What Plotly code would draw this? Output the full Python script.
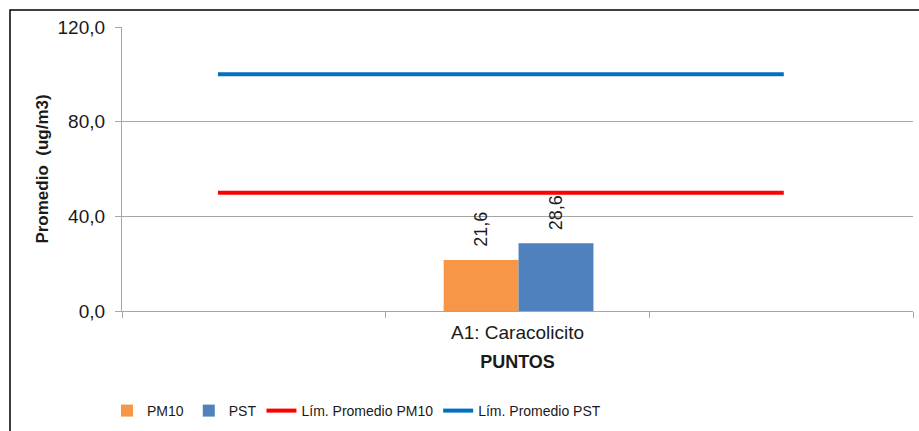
import plotly.graph_objects as go

# Sampling point and measured averages (ug/m3)
categories = ["A1: Caracolicito"]
pm10_values = [21.6]
pst_values = [28.6]

# Regulatory average limits (ug/m3) and the x-span they are drawn over
limit_pm10 = [50.0, 50.0]
limit_pst = [100.0, 100.0]
limit_span = [0.364, 2.51]

y_ticks = [0, 40, 80, 120]
slot_bounds = [0, 1, 2, 3]
cat_pos = [1.5]

FONT = "Liberation Sans, Arial, sans-serif"
TXT = "#1a1a1a"
BAR_W = 0.284
# value label, lifted a little off the bar top with non-breaking spaces
LABEL = "\u00a0\u00a0%{y:.1f}"

fig = go.Figure()

fig.add_trace(go.Bar(
    name="PM10", x=cat_pos, y=pm10_values, width=BAR_W, offset=-BAR_W + 0.004,
    marker=dict(color="#F79646", line=dict(width=0)),
    texttemplate=LABEL, textposition="outside", textangle=-90,
    textfont=dict(family=FONT, size=18, color=TXT), cliponaxis=False,
))
fig.add_trace(go.Bar(
    name="PST", x=cat_pos, y=pst_values, width=BAR_W, offset=0.004,
    marker=dict(color="#4F81BD", line=dict(width=0)),
    texttemplate=LABEL, textposition="outside", textangle=-90,
    textfont=dict(family=FONT, size=18, color=TXT), cliponaxis=False,
))
fig.add_trace(go.Scatter(
    name="Lím. Promedio PM10", x=limit_span, y=limit_pm10, mode="lines",
    line=dict(color="#FF0000", width=4),
))
fig.add_trace(go.Scatter(
    name="Lím. Promedio PST", x=limit_span, y=limit_pst, mode="lines",
    line=dict(color="#0070C0", width=4),
))

L, R, T, B = 122, 913, 27, 311
W, H = 919, 431
pw, ph = R - L, B - T

# outer chart frame
fig.add_shape(type="rect", xref="paper", yref="paper",
              x0=(10 - L) / pw, x1=(W + 20 - L) / pw,
              y0=-(H + 20 - B) / ph, y1=(B - 10) / ph,
              line=dict(color="black", width=1.5), fillcolor="rgba(0,0,0,0)",
              layer="below")

fig.update_layout(
    width=W, height=H,
    margin=dict(l=L, r=W - R, t=T, b=H - B, autoexpand=False),
    paper_bgcolor="white", plot_bgcolor="white",
    separators=",.",
    font=dict(family=FONT, size=15, color=TXT),
    barmode="overlay",
    showlegend=True,
    legend=dict(orientation="h", x=(107 - L) / pw, xanchor="left",
                y=-(395 - B) / ph, yanchor="top",
                font=dict(family=FONT, size=14, color=TXT),
                itemwidth=30, tracegroupgap=0),
    xaxis=dict(
        range=[0, 3], showgrid=False, zeroline=False, automargin=False,
        showline=True, linecolor="#A6A6A6", linewidth=1.3,
        tickvals=cat_pos, ticktext=categories, ticks="",
        ticklabelstandoff=4,
        tickfont=dict(family=FONT, size=19, color=TXT),
        minor=dict(tickvals=slot_bounds, ticks="outside", ticklen=6,
                   tickcolor="#A6A6A6", showgrid=False),
        title=dict(text="<b>PUNTOS</b>", standoff=13,
                   font=dict(family=FONT, size=18, color=TXT)),
    ),
    yaxis=dict(
        range=[0, 120], tickvals=y_ticks, tickformat=".1f", automargin=False,
        showgrid=True, gridcolor="#A6A6A6", gridwidth=1.3,
        zeroline=False, showline=True, linecolor="#A6A6A6", linewidth=1.3,
        ticks="outside", ticklen=6, tickcolor="#A6A6A6",
        ticklabelstandoff=6,
        tickfont=dict(family=FONT, size=19, color=TXT),
        title=dict(text="<b>Promedio  (ug/m3)</b>", standoff=4,
                   font=dict(family=FONT, size=17, color=TXT)),
    ),
)

fig.write_html("out.html")
